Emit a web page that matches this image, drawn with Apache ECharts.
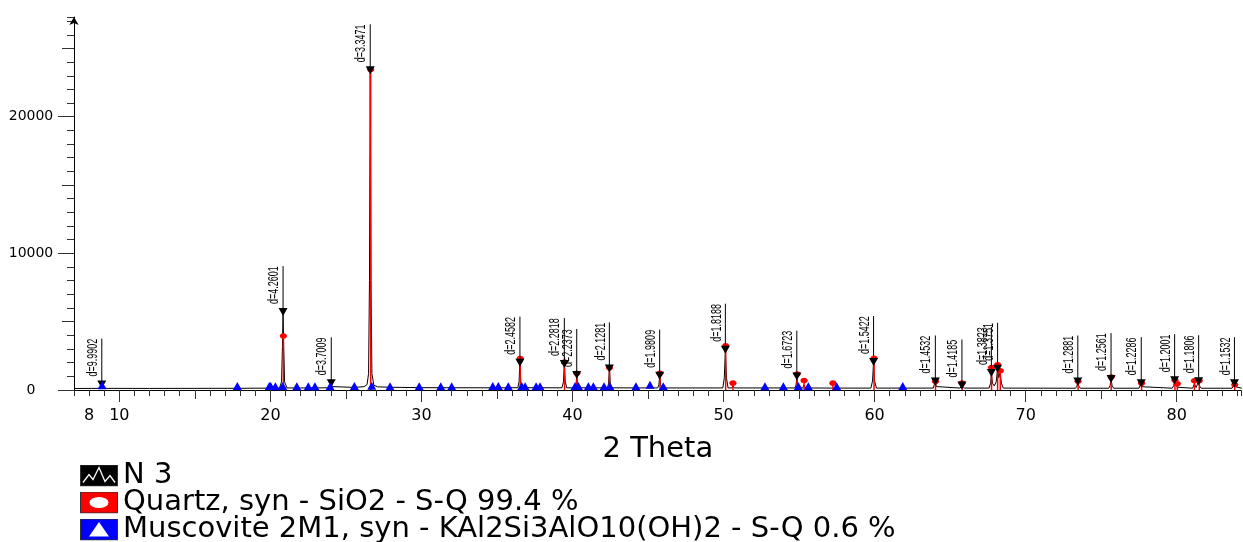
<!DOCTYPE html>
<html><head><meta charset="utf-8">
<script src="https://cdn.jsdelivr.net/npm/echarts@6/dist/echarts.min.js"></script>
<style>html,body{margin:0;padding:0;background:#fff}#c{width:1243px;height:542px}</style>
</head><body><div id="c"></div>
<script>
// Measured diffractogram (2-theta, counts)
const scanPoints = [
[7,110],[8.6,120],[8.74,200],[8.84,400],[8.94,200],[9.1,120],[12,115],[15,120],[18,125],[19.8,135],[20.0,160],[20.2,135],[20.6,140],
[20.74,600],[20.80,3200],[20.84,5700],[20.88,3200],[20.94,600],[21.1,150],[22,150],[23.9,160],[23.96,250],[24.03,490],[24.1,250],[24.2,170],
[25.5,190],[26.2,240],[26.4,400],[26.5,1200],[26.56,8000],[26.61,23400],[26.66,8000],[26.72,1200],[26.85,350],[27.1,230],[28,200],[30,170],
[35,160],[36.38,170],[36.46,600],[36.52,2000],[36.58,600],[36.66,170],[39.3,160],[39.4,600],[39.46,1900],[39.52,600],[39.62,160],
[40.18,160],[40.24,400],[40.28,1100],[40.33,400],[40.4,160],[42.32,160],[42.39,500],[42.44,1580],[42.5,500],[42.58,160],
[45.64,150],[45.72,400],[45.77,1050],[45.83,400],[45.92,150],[49.95,150],[50.05,900],[50.12,2950],[50.19,900],[50.3,150],
[50.55,150],[50.62,300],[50.7,150],[54.7,150],[54.8,350],[54.85,980],[54.91,350],[55.0,150],[55.25,150],[55.33,380],[55.42,150],
[57.15,140],[57.23,250],[57.32,140],[59.75,140],[59.86,650],[59.93,2050],[60.0,650],[60.12,140],[63.88,140],[63.96,250],[64.02,620],
[64.09,250],[64.18,140],[65.66,140],[65.73,200],[65.78,330],[65.85,200],[65.94,140],[67.58,140],[67.68,500],[67.73,1250],[67.8,500],
[67.92,300],[68.05,600],[68.14,1550],[68.22,900],[68.31,1300],[68.39,500],[68.52,140],[73.3,130],[73.39,280],[73.45,620],[73.52,280],
[73.62,130],[75.5,130],[75.59,330],[75.65,800],[75.72,330],[75.82,130],[77.5,130],[77.6,240],[77.65,500],[77.72,240],[77.82,130],
[79.7,130],[79.8,320],[79.86,720],[79.93,320],[80.0,380],[80.08,200],[80.2,130],[81.05,130],[81.17,450],[81.28,180],[81.38,280],
[81.45,640],[81.52,280],[81.62,130],[83.66,130],[83.76,240],[83.82,500],[83.89,240],[84.0,130],[84.3,130]
];
// Labelled peaks
const peakTheta = [8.84,20.84,24.03,26.61,36.52,39.46,40.28,42.44,45.77,50.12,54.85,59.93,64.02,65.78,67.73,68.14,73.45,75.65,77.65,79.86,81.45,83.82];
const peakCounts = [400,5700,490,23400,2000,1900,1100,1580,1050,2950,980,2050,620,330,1250,1550,620,800,500,720,640,500];
const peakD = ['9.9902','4.2601','3.7009','3.3471','2.4582','2.2818','2.2373','2.1281','1.9809','1.8188','1.6723','1.5422','1.4532','1.4185','1.3823','1.3751','1.2881','1.2561','1.2286','1.2001','1.1806','1.1532'];
// Quartz reference sticks
const quartzTheta = [20.86,26.64,36.54,39.47,40.29,42.45,45.79,50.14,50.62,54.87,55.33,57.24,59.96,64.03,65.79,67.74,68.14,68.32,73.47,75.66,77.67,79.88,80.04,81.17,81.49,83.84];
const quartzCounts = [3950,23450,2300,2050,1230,1630,1230,3230,500,1170,700,500,2320,620,500,1650,1850,1400,640,950,500,720,450,680,680,380];
// Muscovite reference sticks
const muscoviteTheta = [8.86,17.81,19.93,20.02,20.33,20.82,21.75,22.51,22.95,23.95,25.56,26.71,27.92,29.85,31.28,32.0,34.72,35.09,35.75,36.64,36.86,37.59,37.85,40.17,40.39,41.05,41.38,42.09,42.48,44.2,45.13,46.01,52.74,53.96,54.95,55.61,57.49,61.86];
const muscoviteCounts = [350,290,290,290,270,300,270,270,270,280,290,320,280,270,270,270,300,300,280,290,280,270,270,290,290,270,270,270,280,270,380,280,270,270,290,280,280,290];
// Axis ticks / labels
const xLabelValues = [8,10,20,30,40,50,60,70,80];
const xMidTicks = [15,25,35,45,55,65,75];
const xMajorTicks = [10,20,30,40,50,60,70,80];
const yLabelValues = [0,10000,20000];
const yMidTicks = [5000,15000,25000];
// Legend names
const nameScan = 'N 3';
const nameQuartz = 'Quartz, syn - SiO2 - S-Q 99.4 %';
const nameMusc = 'Muscovite 2M1, syn - KAl2Si3AlO10(OH)2 - S-Q 0.6 %';

const X_MIN = 7, X_MAX = 84.3, Y_MIN = 0, Y_MAX = 27300;
const gridRect = {left:74, right:1.3, top:17, bottom:152};

function svgIcon(inner, fill){
  const s = '<svg xmlns="http://www.w3.org/2000/svg" width="38" height="22" viewBox="0 0 38 22">'+
    '<rect x="0.5" y="0.5" width="37" height="21" fill="'+fill+'" stroke="#333" stroke-width="1"/>'+inner+'</svg>';
  return 'image://data:image/svg+xml;charset=utf-8,' + encodeURIComponent(s);
}
const iconScan = svgIcon('<polyline points="3,18 9,10 13,15 19,3 25,17 30,11 35,18" fill="none" stroke="#fff" stroke-width="1.3"/>','#000');
const iconQuartz = svgIcon('<ellipse cx="19" cy="11" rx="9.5" ry="5.5" fill="#fff"/>','#ff0000');
const iconMusc = svgIcon('<polygon points="19,3.5 29,18 9,18" fill="#fff"/>','#0000ff');

function legendAt(top, name, icon){
  return {orient:'vertical', left:80, top:top, padding:0, itemWidth:38, itemHeight:22,
    selectedMode:false, textStyle:{fontSize:29, fontFamily:'DejaVu Sans', color:'#000'},
    data:[{name:name, icon:icon}]};
}

const tickColor = '#333';
const baseX = {type:'value', min:X_MIN, max:X_MAX, splitLine:{show:false}};
const baseY = {type:'value', min:Y_MIN, max:Y_MAX, splitLine:{show:false}};
const chart = echarts.init(document.getElementById('c'));
chart.setOption({
  animation:false,
  backgroundColor:'#fff',
  grid:[Object.assign({}, gridRect), Object.assign({}, gridRect), Object.assign({}, gridRect)],
  xAxis:[
    Object.assign({}, baseX, {gridIndex:0, interval:1,
      name:'2 Theta', nameLocation:'middle', nameGap:45,
      nameTextStyle:{fontSize:29, fontFamily:'DejaVu Sans', color:'#000'},
      axisLine:{show:true, onZero:false, lineStyle:{color:'#000', width:1}},
      axisTick:{show:true, length:6, lineStyle:{color:tickColor}},
      axisLabel:{show:true, customValues:xLabelValues, fontSize:16, fontFamily:'DejaVu Sans', color:'#000', margin:18,
                 formatter:function(v){return String(v);}}}),
    Object.assign({}, baseX, {gridIndex:1,
      axisLine:{show:false}, axisLabel:{show:false},
      axisTick:{show:true, customValues:xMidTicks, length:9, lineStyle:{color:tickColor}}}),
    Object.assign({}, baseX, {gridIndex:2,
      axisLine:{show:false}, axisLabel:{show:false},
      axisTick:{show:true, customValues:xMajorTicks, length:12, lineStyle:{color:tickColor}}})
  ],
  yAxis:[
    Object.assign({}, baseY, {gridIndex:0, interval:1000,
      axisLine:{show:true, onZero:false, lineStyle:{color:'#000', width:1}, symbol:['none','arrow'], symbolSize:[7,8]},
      axisTick:{show:true, length:7, lineStyle:{color:tickColor}},
      axisLabel:{show:true, customValues:yLabelValues, fontSize:14, fontFamily:'DejaVu Sans', color:'#000', align:'center', margin:43,
                 formatter:function(v){return String(v);}}}),
    Object.assign({}, baseY, {gridIndex:1,
      axisLine:{show:false}, axisLabel:{show:false},
      axisTick:{show:true, customValues:yMidTicks, length:12, lineStyle:{color:tickColor}}}),
    Object.assign({}, baseY, {gridIndex:2,
      axisLine:{show:false}, axisLabel:{show:false},
      axisTick:{show:true, customValues:yLabelValues, length:16, lineStyle:{color:tickColor}}})
  ],
  legend:[
    legendAt(461, nameScan, iconScan),
    legendAt(488, nameQuartz, iconQuartz),
    legendAt(515, nameMusc, iconMusc)
  ],
  series:[
    {name:nameScan, type:'line', xAxisIndex:0, yAxisIndex:0, data:scanPoints, showSymbol:false, symbol:'none',
     lineStyle:{color:'#000', width:1}, itemStyle:{color:'#000'}, z:2, silent:true},
    {name:nameQuartz, type:'custom', xAxisIndex:0, yAxisIndex:0, z:3, silent:true,
     itemStyle:{color:'#ff0000', opacity:1},
     data:quartzTheta.map((t,i)=>[t, quartzCounts[i]]),
     renderItem:function(params, api){
       const top = api.coord([api.value(0), api.value(1)]);
       const bot = api.coord([api.value(0), 0]);
       return {type:'group', children:[
         {type:'line', shape:{x1:top[0], y1:bot[1], x2:top[0], y2:top[1]}, style:{stroke:'#ff0000', lineWidth:1.5}},
         {type:'ellipse', shape:{cx:top[0], cy:top[1], rx:3.6, ry:2.8}, style:{fill:'#ff0000'}}
       ]};
     }},
    {name:'peaks', type:'custom', xAxisIndex:0, yAxisIndex:0, z:4, silent:true, clip:false,
     data:peakTheta.map((t,i)=>[t, peakCounts[i]]),
     renderItem:function(params, api){
       const p = api.coord([api.value(0), api.value(1)]);
       const x = p[0], y = p[1];
       return {type:'group', children:[
         {type:'line', shape:{x1:x, y1:y, x2:x, y2:y-46}, style:{stroke:'#000', lineWidth:1}},
         {type:'polygon', shape:{points:[[x-4.5,y-4],[x+4.5,y-4],[x,y+4]]}, style:{fill:'#000'}},
         {type:'text', x:x-1.5, y:y-8, rotation:Math.PI/2, scaleX:0.6, scaleY:1,
          style:{text:'d='+peakD[params.dataIndex], fontSize:15, fontFamily:'Liberation Sans, Arial, sans-serif',
                 fill:'#000', align:'left', verticalAlign:'bottom'}}
       ]};
     }},
    {name:nameMusc, type:'scatter', xAxisIndex:0, yAxisIndex:0, z:5, silent:true,
     symbol:'triangle', symbolSize:[9,8], itemStyle:{color:'#0000ff', opacity:1},
     data:muscoviteTheta.map((t,i)=>[t, muscoviteCounts[i]])}
  ]
});
</script></body></html>
